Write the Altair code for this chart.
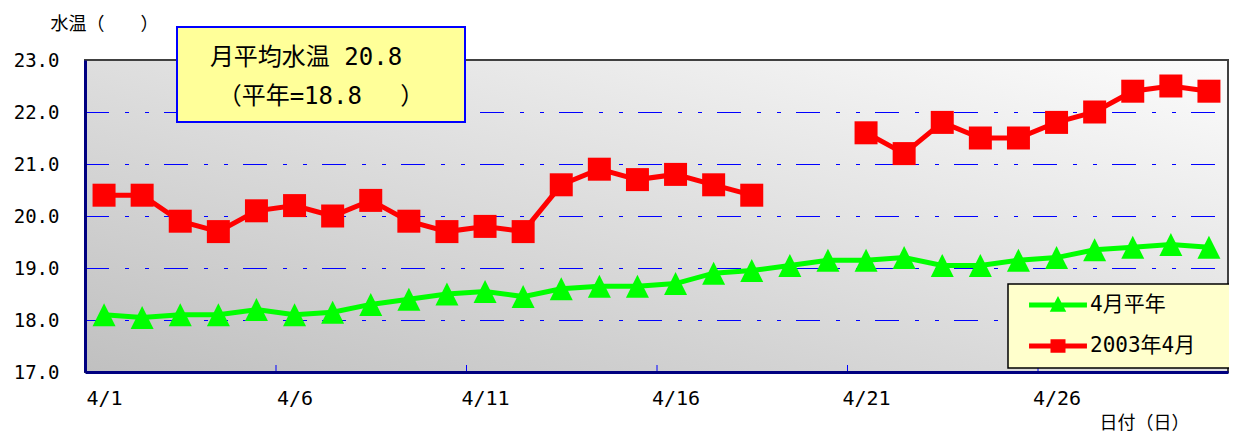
import altair as alt
import pandas as pd

# ---- data ----
days = list(range(1, 31))
normal_vals = [18.1, 18.05, 18.1, 18.1, 18.2, 18.1, 18.15, 18.3, 18.4, 18.5,
               18.55, 18.45, 18.6, 18.65, 18.65, 18.7, 18.9, 18.95, 19.05, 19.15,
               19.15, 19.2, 19.05, 19.05, 19.15, 19.2, 19.35, 19.4, 19.45, 19.4]
y2003_vals = [20.4, 20.4, 19.9, 19.7, 20.1, 20.2, 20.0, 20.3, 19.9, 19.7,
              19.8, 19.7, 20.6, 20.9, 20.7, 20.8, 20.6, 20.4, None, None,
              21.6, 21.2, 21.8, 21.5, 21.5, 21.8, 22.0, 22.4, 22.5, 22.4]
series_names = ["4月平年", "2003年4月"]
series_colors = ["#00ff00", "#ff0000"]
label_days = [1, 6, 11, 16, 21, 26]
tick_bounds = [5.5, 10.5, 15.5, 20.5, 25.5]
y_labels = [17, 18, 19, 20, 21, 22, 23]
grid_values = [18, 19, 20, 21, 22]
annotation_lines = ["月平均水温 20.8", "（平年=18.8　 ）"]
y_title = "水温（　　）"
x_title = "日付（日）"

rows = []
for name, vals in zip(series_names, [normal_vals, y2003_vals]):
    seg = 0
    for d, v in zip(days, vals):
        if v is None:
            seg += 1
            continue
        rows.append({"day": d, "value": v, "series": name, "seg": f"{name}-{seg}"})
df = pd.DataFrame(rows)

W, H = 1143, 312
FONT = "DejaVu Sans Mono, Noto Sans CJK JP"
CJK = "Noto Sans CJK JP"

tri_path = "M0,-1L1,1L-1,1Z"
leg_tri = "M-1.93,-0.167L1.93,-0.167L1.93,0.167L-1.93,0.167Z M0,-0.6L0.55,0.45L-0.55,0.45Z"
leg_sq = "M-1.93,-0.167L1.93,-0.167L1.93,0.167L-1.93,0.167Z M-0.5,-0.45L0.5,-0.45L0.5,0.45L-0.5,0.45Z"

xscale = alt.Scale(domain=[0.5, 30.5], nice=False, zero=False)
yscale = alt.Scale(domain=[17, 23], nice=False, zero=False)
cscale = alt.Scale(domain=series_names, range=series_colors)

xaxis = alt.Axis(values=label_days, labelExpr="'4/' + datum.value", ticks=False, tickSize=0,
                 grid=False, domainColor="#000080", domainWidth=3, labelFontSize=20,
                 labelFont=FONT, labelColor="black", labelPadding=16, labelFlush=False,
                 title=x_title, titleFont=CJK, titleFontSize=18, titleFontWeight="normal",
                 titleX=1059, titleY=51, titleAlign="center", titleBaseline="middle",
                 titleColor="black", zindex=1)
yaxis = alt.Axis(values=y_labels, format=".1f", ticks=False, tickSize=0, grid=False,
                 domainColor="#000080", domainWidth=3, labelFontSize=19, labelFont=FONT,
                 labelColor="black", labelPadding=26, title=y_title, titleFont=CJK,
                 titleFontSize=18, titleFontWeight="normal", titleAngle=0, titleX=19,
                 titleY=-36, titleAlign="center", titleBaseline="middle",
                 titleColor="black", zindex=1)

legend = alt.Legend(title=None, orient="none", legendX=958, legendY=230, symbolSize=900,
                    labelOffset=17, rowPadding=16, padding=0, labelFontSize=21,
                    labelFont=FONT, labelColor="black", zindex=1, symbolOpacity=1,
                    symbolStrokeWidth=0)

X = alt.X("day:Q", scale=xscale, axis=xaxis)
Y = alt.Y("value:Q", scale=yscale, axis=yaxis)
C = alt.Color("series:N", scale=cscale, legend=legend)

one = alt.Data(values=[{"k": 1}])

bg = alt.Chart(one).mark_rect(
    fill=alt.LinearGradient(gradient="linear", x1=0, y1=1, x2=1, y2=0,
                            stops=[alt.GradientStop(offset=0, color="#c0c0c0"),
                                   alt.GradientStop(offset=1, color="#fcfcfc")]),
    stroke="#404040", strokeWidth=2
).encode(x=alt.value(0), x2=alt.value(W), y=alt.value(0), y2=alt.value(H))

grid = alt.Chart(pd.DataFrame({"value": grid_values})).mark_rule(
    color="#0000ff", strokeWidth=1, strokeDash=[24, 16, 4, 16, 4, 15], yOffset=0.5
).encode(y=Y, x=alt.value(0), x2=alt.value(W))

ticks = alt.Chart(pd.DataFrame({"day": tick_bounds})).mark_rule(
    color="#0000ff", strokeWidth=1, xOffset=0.5).encode(
    x=X, y=alt.value(H - 7), y2=alt.value(H))

base = alt.Chart(df)
lines = base.mark_line(strokeWidth=5).encode(x=X, y=Y, color=C, detail="seg:N")

pts_layers = []
for name, shp in zip(series_names, [tri_path, "square"]):
    pts_layers.append(
        base.transform_filter(alt.datum.series == name).mark_point(
            filled=True, opacity=1, size=529, shape=shp).encode(x=X, y=Y, color=C))

leg_layer = base.mark_point(filled=True, opacity=0, size=900).encode(
    x=X, y=Y, color=C,
    shape=alt.Shape("series:N", scale=alt.Scale(domain=series_names, range=[leg_tri, leg_sq]), legend=legend))

ann_box = alt.Chart(one).mark_rect(fill="#ffff99", stroke="#0000ff", strokeWidth=2).encode(
    x=alt.value(92), x2=alt.value(380), y=alt.value(-33), y2=alt.value(62))
ann1 = alt.Chart(one).mark_text(text=annotation_lines[0], font=FONT, fontSize=24, color="black",
                                align="center", baseline="middle").encode(x=alt.value(221), y=alt.value(-2))
ann2 = alt.Chart(one).mark_text(text=annotation_lines[1], font=FONT, fontSize=24, color="black",
                                align="center", baseline="middle").encode(x=alt.value(236), y=alt.value(37))

leg_box = alt.Chart(one).mark_rect(fill="#ffffcc", stroke="black", strokeWidth=1.5).encode(
    x=alt.value(923), x2=alt.value(1145), y=alt.value(224), y2=alt.value(308))

chart = alt.layer(bg, grid, ticks, lines, *pts_layers, leg_layer, ann_box, ann1, ann2, leg_box).properties(
    width=W, height=H,
    padding={"left": 77, "top": 52, "right": 1, "bottom": 61},
    autosize=alt.AutoSizeParams(type="none"),
    background="white"
).configure_view(stroke=None)

chart.save("out.html", embed_options={"renderer": "svg", "actions": False})
